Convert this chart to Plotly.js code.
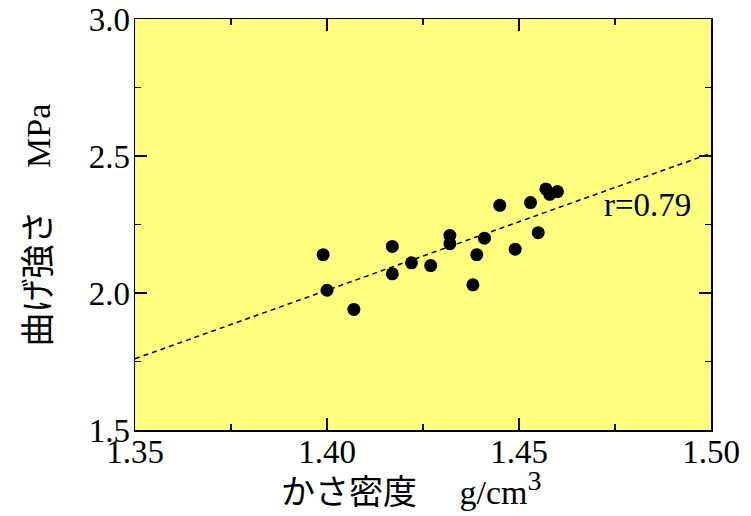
<!DOCTYPE html>
<html>
<head>
<meta charset="utf-8">
<script src="https://cdn.plot.ly/plotly-3.0.1.min.js"></script>
<style>html,body{margin:0;padding:0;background:#fff;}</style>
</head>
<body>
<div id="chart" style="width:751px;height:516px;"></div>
<script>
// Bulk density (g/cm3) and bending strength (MPa)
const density = [1.399, 1.400, 1.407, 1.417, 1.417, 1.422, 1.427, 1.432, 1.432, 1.438,
                 1.439, 1.441, 1.445, 1.449, 1.453, 1.455, 1.457, 1.458, 1.460];
const strength = [2.14, 2.01, 1.94, 2.17, 2.07, 2.11, 2.10, 2.21, 2.18, 2.03,
                  2.14, 2.20, 2.32, 2.16, 2.33, 2.22, 2.38, 2.36, 2.37];
// regression line
const fitX = [1.35, 1.50];
const fitY = [1.76, 2.51];
const xTickVals = [1.35, 1.40, 1.45, 1.50];
const xTickText = ['1.35', '1.40', '1.45', '1.50'];
const yTickVals = [1.5, 2.0, 2.5, 3.0];
const yTickText = ['1.5', '2.0', '2.5', '3.0'];
const rLabel = 'r=0.79';
const xTitle = 'かさ密度　<span style="font-family:Liberation Serif"> g/cm<sup><span style="font-size:28px">3</span></sup></span>';
const yTitle = '曲げ強さ　<span style="font-family:Liberation Serif"> MPa</span>';

const serif = 'Liberation Serif, Times New Roman, serif';
const jp = 'Noto Sans CJK JP, sans-serif';

const traces = [
  {x: fitX, y: fitY, mode: 'lines', type: 'scatter',
   line: {color: '#000', width: 1.5, dash: '5px,4px'}, hoverinfo: 'skip'},
  {x: density, y: strength, mode: 'markers', type: 'scatter',
   marker: {color: '#000', size: 13}}
];

const axisCommon = {
  showline: true, linecolor: '#000', linewidth: 1.5, mirror: 'allticks',
  ticks: 'inside', ticklen: 12, tickwidth: 1.2, tickcolor: '#000',
  showgrid: false, zeroline: false,
  tickfont: {family: serif, size: 33, color: '#000'}
};

const layout = {
  width: 751, height: 516,
  margin: {l: 135, r: 40, t: 19, b: 86, pad: 0},
  paper_bgcolor: '#fff', plot_bgcolor: '#FFFF80',
  showlegend: false,
  xaxis: Object.assign({}, axisCommon, {
    range: [1.35, 1.50], tickvals: xTickVals, ticktext: xTickText,
    ticklabelstandoff: -8,
    minor: {dtick: 0.025, ticks: 'inside', ticklen: 6, tickcolor: '#000', tickwidth: 1.2, showgrid: false}
  }),
  yaxis: Object.assign({}, axisCommon, {
    range: [1.5, 3.0], tickvals: yTickVals, ticktext: yTickText,
    ticklabelstandoff: -3,
    minor: {dtick: 0.25, ticks: 'inside', ticklen: 6, tickcolor: '#000', tickwidth: 1.2, showgrid: false}
  }),
  annotations: [
    {x: 1.4835, y: 2.32, xref: 'x', yref: 'y', text: rLabel, showarrow: false,
     font: {family: serif, size: 33, color: '#000'}},
    {x: 0.48, y: -0.145, xref: 'paper', yref: 'paper', xanchor: 'center', yanchor: 'middle',
     text: xTitle, showarrow: false, font: {family: jp, size: 34, color: '#000'}},
    {x: -0.172, y: 0.5, xref: 'paper', yref: 'paper', xanchor: 'center', yanchor: 'middle',
     textangle: -90, text: yTitle, showarrow: false, font: {family: jp, size: 34, color: '#000'}}
  ]
};

Plotly.newPlot('chart', traces, layout, {displayModeBar: false, staticPlot: true});
</script>
</body>
</html>
